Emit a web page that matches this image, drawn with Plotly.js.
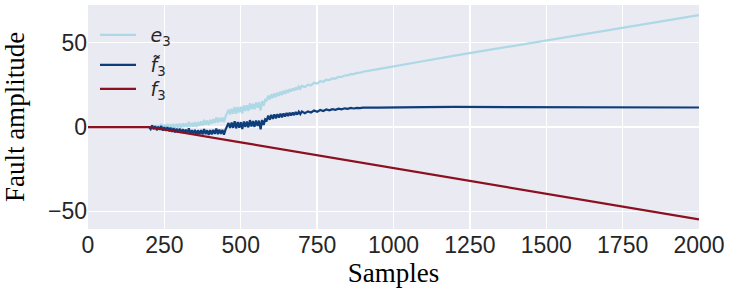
<!DOCTYPE html>
<html>
<head>
<meta charset="utf-8">
<script src="https://cdn.plot.ly/plotly-3.0.1.min.js"></script>
<style>html,body{margin:0;padding:0;background:#fff;}#chart{width:731px;height:289px;}</style>
</head>
<body>
<div id="chart"></div>
<script>
// Sample index for the estimated (noisy) series
const sampleX = [
 200,205,210,215,220,225,230,235,240,245,250,255,260,265,270,275,280,285,290,295,
 300,305,310,315,320,325,330,335,340,345,350,355,360,365,370,375,380,385,390,395,
 400,405,410,415,420,425,430,435,440,445,450,455,460,465,470,475,480,485,490,495,
 500,505,510,515,520,525,530,535,540,545,550,555,560,565,570,575,580,585,590,595,
 600,605,610,615,620,625,630,635,640,645,650,655,660,665,670,675,680,685,690,695,
 700,710,720,730,740,750,760,770,780,790,800,810,820,830,840,850,860,870,880,890,
 900,950,1000,1100,1200,1300,1400,1500,1600,1700,1800,1900,2000
];
// f~3 (estimated fault)
const fHat3 = [
 0.0,-1.2,0.9,-1.4,0.5,-1.9,0.2,-1.6,0.6,-2.1,-0.1,-2.3,0.0,-2.5,-0.4,-2.9,-0.6,-3.1,-0.9,-3.3,
 -1.0,-3.5,-1.2,-3.6,-1.5,-3.9,-0.8,-4.0,-1.8,-4.1,-1.7,-4.6,-1.9,-4.3,-1.8,-4.4,-1.2,-4.2,-1.9,-4.7,
 -1.8,-4.3,-1.7,-4.1,-0.9,-4.2,-1.5,-4.0,-1.7,-4.5,-1.6,0.3,2.4,-0.6,2.6,-0.5,3.4,-0.8,3.0,-0.4,
 2.9,-1.2,3.3,0.0,3.2,-0.2,4.1,0.3,3.5,0.1,3.9,0.6,3.8,-1.4,4.2,1.2,4.6,4.0,6.8,4.3,
 7.2,4.9,7.5,5.1,7.6,5.6,7.9,5.8,8.1,6.2,8.3,6.5,8.5,6.9,8.6,7.1,8.9,7.4,9.1,7.7,
 9.2,8.2,9.3,8.6,9.8,9.0,10.1,9.5,10.4,9.9,10.6,10.2,10.9,10.5,11.1,10.8,11.3,11.0,11.4,11.2,
 11.5,11.5,11.7,11.8,11.9,11.9,11.9,11.8,11.8,11.7,11.7,11.6,11.6
];
// e3 (error signal)
const e3 = [
 0.00,-1.05,1.20,-0.94,1.11,-1.14,1.11,-0.54,1.82,-0.73,1.42,-0.63,1.83,-0.52,1.73,-0.62,1.84,-0.51,1.84,-0.41,
 2.04,-0.30,2.15,-0.10,2.15,-0.10,3.16,0.11,2.46,0.31,2.87,0.12,2.97,0.72,3.38,0.93,4.28,1.43,3.88,1.24,
 4.29,1.94,4.69,2.45,5.80,2.65,5.50,3.15,5.61,2.96,6.01,8.06,10.31,7.47,10.82,7.87,11.92,7.88,11.83,8.58,
 12.03,8.08,12.74,9.59,12.94,9.69,14.15,10.50,13.85,10.60,14.55,11.41,14.76,9.71,15.46,12.62,16.17,15.72,18.67,16.32,
 19.38,17.23,19.98,17.73,20.39,18.54,20.99,19.04,21.49,19.75,22.00,20.35,22.50,21.06,22.91,21.56,23.51,22.16,24.02,22.77,
 24.42,23.72,25.13,24.73,26.24,25.74,27.15,26.85,28.06,27.86,28.86,28.77,29.77,29.68,30.58,30.59,31.39,31.40,32.10,32.20,
 32.81,34.33,36.05,39.20,42.34,45.38,48.43,51.37,54.42,57.36,60.40,63.35,66.39
];
// f3 (true fault)
const f3X = [0, 200, 500, 1000, 1500, 2000];
const f3 = [0, 0, -9.1, -24.4, -39.6, -54.8];

const xTicks = [0, 250, 500, 750, 1000, 1250, 1500, 1750, 2000];
const yTicks = [-50, 0, 50];

const W = 731, H = 289;
const M = {l: 88, r: 32, t: 5, b: 60};
const PW = W - M.l - M.r, PH = H - M.t - M.b;
const legFont = {family: 'DejaVu Sans', size: 19, color: '#262626'};
function legendAt(px, py) {
  return {x: (px - M.l) / PW, y: 1 - (py - M.t) / PH, xref: 'paper', yref: 'paper',
          xanchor: 'left', yanchor: 'middle', bgcolor: 'rgba(0,0,0,0)',
          borderwidth: 0, font: legFont, itemwidth: 36, tracegroupgap: 0};
}

const traces = [
  {x: sampleX, y: e3, mode: 'lines', name: '\u2002<i>e</i><sub>3</sub>',
   line: {color: '#add8e6', width: 2.2}, legend: 'legend'},
  {x: sampleX, y: fHat3, mode: 'lines', name: '\u2002<i>f\u0303</i><sub>3</sub>',
   line: {color: '#0e3d7c', width: 2.2}, legend: 'legend2'},
  {x: f3X, y: f3, mode: 'lines', name: '\u2002<i>f</i><sub>3</sub>',
   line: {color: '#8c1020', width: 2.2}, legend: 'legend3'}
];

const layout = {
  width: W, height: H,
  margin: M,
  paper_bgcolor: '#ffffff',
  plot_bgcolor: '#eaeaf2',
  showlegend: true,
  legend: legendAt(95, 35),
  legend2: legendAt(95, 65),
  legend3: legendAt(95, 89),
  xaxis: {
    range: [0, 2000], tickvals: xTicks, ticktext: xTicks.map(String),
    showgrid: true, gridcolor: '#ffffff', gridwidth: 1.3, zeroline: false,
    showline: false, ticks: '', automargin: false,
    tickfont: {family: 'Liberation Sans', size: 23, color: '#262626'},
    title: {text: 'Samples', font: {family: 'Liberation Serif', size: 27, color: '#000'}, standoff: 2}
  },
  yaxis: {
    range: [-60.5, 72.4], tickvals: yTicks, ticktext: ['\u221250', '0', '50'],
    showgrid: true, gridcolor: '#ffffff', gridwidth: 1.3, zeroline: false,
    showline: false, ticks: '', automargin: false,
    tickfont: {family: 'Liberation Sans', size: 23, color: '#262626'},
    title: {text: 'Fault amplitude', font: {family: 'Liberation Serif', size: 27, color: '#000'}, standoff: 15}
  }
};

Plotly.newPlot('chart', traces, layout, {displayModeBar: false, staticPlot: true});
</script>
</body>
</html>
